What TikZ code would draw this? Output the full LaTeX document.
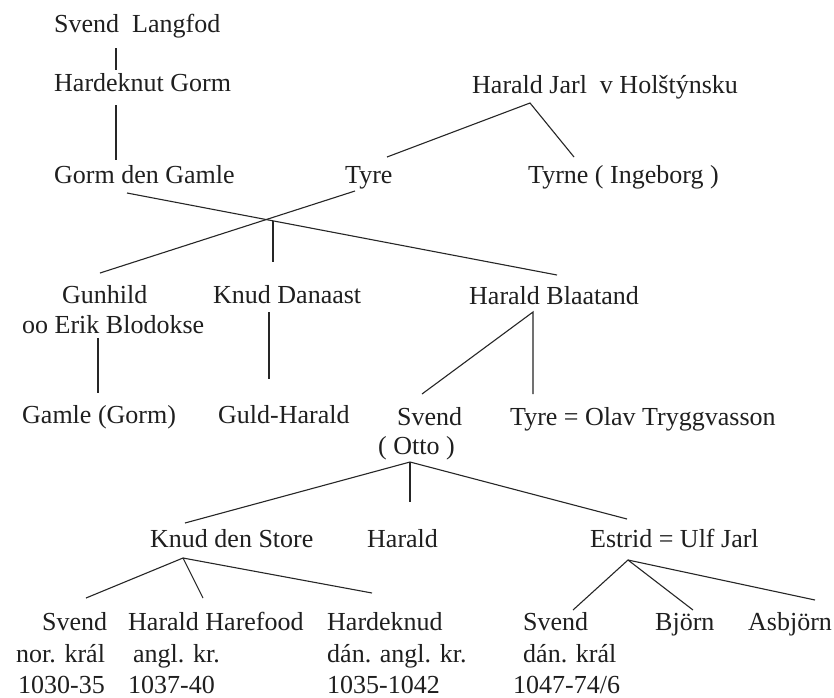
\documentclass[tikz,border=0pt]{standalone}
\usepackage{fontspec}
\setmainfont{Liberation Serif}
\begin{document}
\begin{tikzpicture}[x=1pt,y=-1pt,
  txt/.style={anchor=base west,inner sep=0pt,font=\fontsize{26}{31}\selectfont,text=black!88},
  link/.style={draw=black!85,line width=1.1pt}]
\useasboundingbox[fill=white] (0,0) rectangle (834,697);
% generation 0-2
\node[txt] (svendL) at (54,32) {Svend\ \ Langfod};
\node[txt] (hardG) at (54,91) {Hardeknut Gorm};
\node[txt] (gorm) at (54,183) {Gorm den Gamle};
\node[txt] (tyre) at (345,183) {Tyre};
\node[txt] (haraldJ) at (472,93) {Harald Jarl\ \ v Holštýnsku};
\node[txt] (tyrne) at (528,183) {Tyrne ( Ingeborg )};
% generation 3
\node[txt] (gunhild) at (62,303) {Gunhild};
\node[txt] (erik) at (22,333) {oo Erik Blodokse};
\node[txt] (knudD) at (213,303) {Knud Danaast};
\node[txt] (haraldB) at (469,304) {Harald Blaatand};
% generation 4
\node[txt] (gamle) at (22,423) {Gamle (Gorm)};
\node[txt] (guld) at (218,423) {Guld-Harald};
\node[txt] (svendO) at (397,425) {Svend};
\node[txt] (otto) at (378,454) {( Otto )};
\node[txt] (tyreO) at (510,425) {Tyre = Olav Tryggvasson};
% generation 5
\node[txt] (knudS) at (150,547) {Knud den Store};
\node[txt] (haraldS) at (367,547) {Harald};
\node[txt] (estrid) at (590,547) {Estrid = Ulf Jarl};
% generation 6
\node[txt] (svendN) at (42,630) {Svend};
\node[txt] (svendN2) at (16,662) {nor. král};
\node[txt] (svendN3) at (18,693) {1030-35};
\node[txt] (haraldH) at (128,630) {Harald Harefood};
\node[txt] (haraldH2) at (133,662) {angl. kr.};
\node[txt] (haraldH3) at (128,693) {1037-40};
\node[txt] (hardK) at (327,630) {Hardeknud};
\node[txt] (hardK2) at (327,662) {dán. angl. kr.};
\node[txt] (hardK3) at (327,693) {1035-1042};
\node[txt] (svendD) at (523,630) {Svend};
\node[txt] (svendD2) at (523,662) {dán. král};
\node[txt] (svendD3) at (513,693) {1047-74/6};
\node[txt] (bjorn) at (655,630) {Björn};
\node[txt] (asbjorn) at (748,630) {Asbjörn};
% connector points
\coordinate (a1) at (116,48);  \coordinate (a2) at (116,70);
\coordinate (b1) at (116,105); \coordinate (b2) at (116,160);
\coordinate (hj) at (530,103); \coordinate (ty) at (387,157); \coordinate (tn) at (574,157);
\coordinate (g1) at (127,193); \coordinate (g2) at (557,275);
\coordinate (t1) at (355,191); \coordinate (t2) at (100,273);
\coordinate (c1) at (273,221); \coordinate (c2) at (273,262);
\coordinate (gu1) at (98,338); \coordinate (gu2) at (98,393);
\coordinate (kd1) at (269,312); \coordinate (kd2) at (269,379);
\coordinate (hb) at (533,312); \coordinate (hbs) at (422,394); \coordinate (hbt) at (533,394);
\coordinate (so) at (410,462); \coordinate (sok) at (185,523); \coordinate (soh) at (410,502);
\coordinate (soe) at (627,519);
\coordinate (ks) at (183,558); \coordinate (ks1) at (86,598); \coordinate (ks2) at (203,598);
\coordinate (ks3) at (372,593);
\coordinate (es) at (628,560); \coordinate (es1) at (573,610); \coordinate (es2) at (693,610);
\coordinate (es3) at (815,600);
% connectors
\draw[link] (a1) -- (a2);
\draw[link] (b1) -- (b2);
\draw[link] (ty) -- (hj) -- (tn);
\draw[link] (g1) -- (g2);
\draw[link] (t1) -- (t2);
\draw[link] (c1) -- (c2);
\draw[link] (gu1) -- (gu2);
\draw[link] (kd1) -- (kd2);
\draw[link] (hbs) -- (hb) -- (hbt);
\draw[link] (sok) -- (so) -- (soe);
\draw[link] (so) -- (soh);
\draw[link] (ks1) -- (ks) -- (ks2);
\draw[link] (ks) -- (ks3);
\draw[link] (es1) -- (es) -- (es2);
\draw[link] (es) -- (es3);
\end{tikzpicture}
\end{document}
